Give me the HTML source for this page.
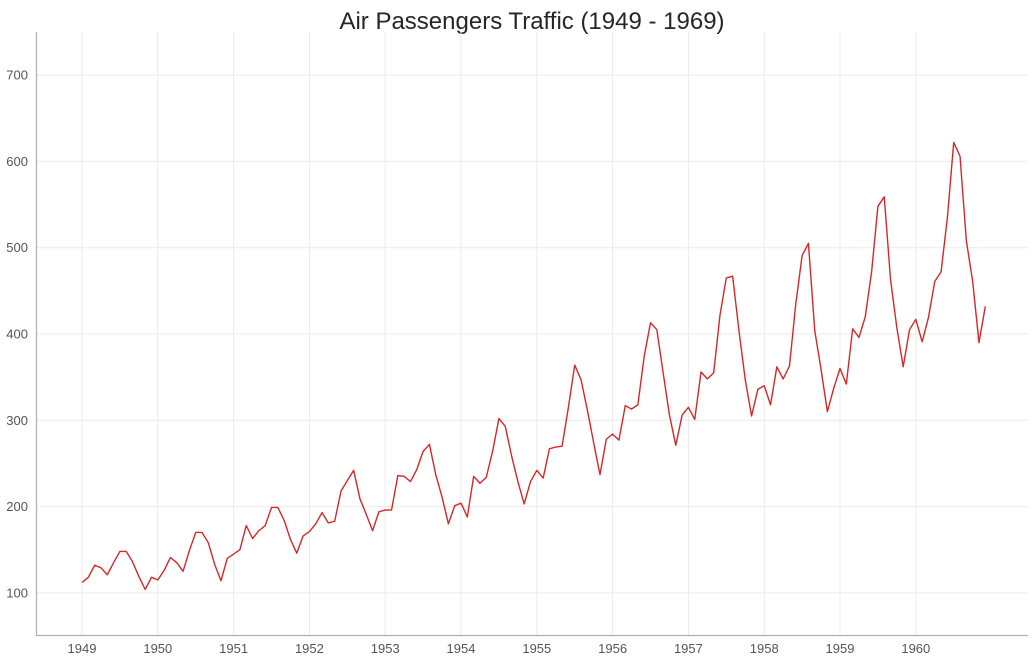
<!DOCTYPE html>
<html><head><meta charset="utf-8">
<style>
html,body{margin:0;padding:0;background:#fff;}
svg{display:block;font-family:"Liberation Sans",sans-serif;}
</style></head>
<body>
<svg id="chart" width="1036" height="662">
<text x="532" y="29" text-anchor="middle" font-size="24" fill="#262626">Air Passengers Traffic (1949 - 1969)</text>
<g id="grid"></g><g id="ticks"></g><g id="series"></g>
<line x1="36.5" y1="32" x2="36.5" y2="636" stroke="#b0b0b0" stroke-width="1.2"/>
<line x1="36" y1="635.5" x2="1028" y2="635.5" stroke="#b0b0b0" stroke-width="1.2"/>
</svg>
<script>
const years = [1949,1950,1951,1952,1953,1954,1955,1956,1957,1958,1959,1960];
const yTicks = [100,200,300,400,500,600,700];
const passengers = [
112,118,132,129,121,135,148,148,136,119,104,118,
115,126,141,135,125,149,170,170,158,133,114,140,
145,150,178,163,172,178,199,199,184,162,146,166,
171,180,193,181,183,218,230,242,209,191,172,194,
196,196,236,235,229,243,264,272,237,211,180,201,
204,188,235,227,234,264,302,293,259,229,203,229,
242,233,267,269,270,315,364,347,312,274,237,278,
284,277,317,313,318,374,413,405,355,306,271,306,
315,301,356,348,355,422,465,467,404,347,305,336,
340,318,362,348,363,435,491,505,404,359,310,337,
360,342,406,396,420,472,548,559,463,407,362,405,
417,391,419,461,472,535,622,606,508,461,390,432];
const NS="http://www.w3.org/2000/svg";
const L=36,R=1028,T=32,B=636;
const xMin=1948.393,xMax=1961.48,yMin=50,yMax=750;
const xs=v=>L+(v-xMin)/(xMax-xMin)*(R-L);
const ys=v=>B-(v-yMin)/(yMax-yMin)*(B-T);
const grid=document.getElementById('grid'),ticks=document.getElementById('ticks'),series=document.getElementById('series');
function mk(tag,attrs,parent){const e=document.createElementNS(NS,tag);for(const k in attrs)e.setAttribute(k,attrs[k]);parent.appendChild(e);return e;}
years.forEach(y=>{
  const x=xs(y);
  const g=mk('line',{x1:x,x2:x,y1:T,y2:B,stroke:'#ebebeb','stroke-width':1},grid);
  
  
  const t=mk('text',{x:x,y:653,'text-anchor':'middle','font-size':13,fill:'#555'},ticks);
  t.textContent=y;
  
  
});
yTicks.forEach(v=>{
  const y=ys(v);
  const g=mk('line',{x1:L,x2:R,y1:y,y2:y,stroke:'#ebebeb','stroke-width':1},grid);
  
  
  const t=mk('text',{x:28,y:y+4.5,'text-anchor':'end','font-size':13,fill:'#555'},ticks);
  t.textContent=v;
  
  
});
const pts=passengers.map((v,i)=>xs(1949+i/12).toFixed(2)+','+ys(v).toFixed(2)).join(' ');
const line=mk('polyline',{points:pts,fill:'none',stroke:'#d62728','stroke-width':1.4,'stroke-linejoin':'round'},series);


</script>
</body></html>
